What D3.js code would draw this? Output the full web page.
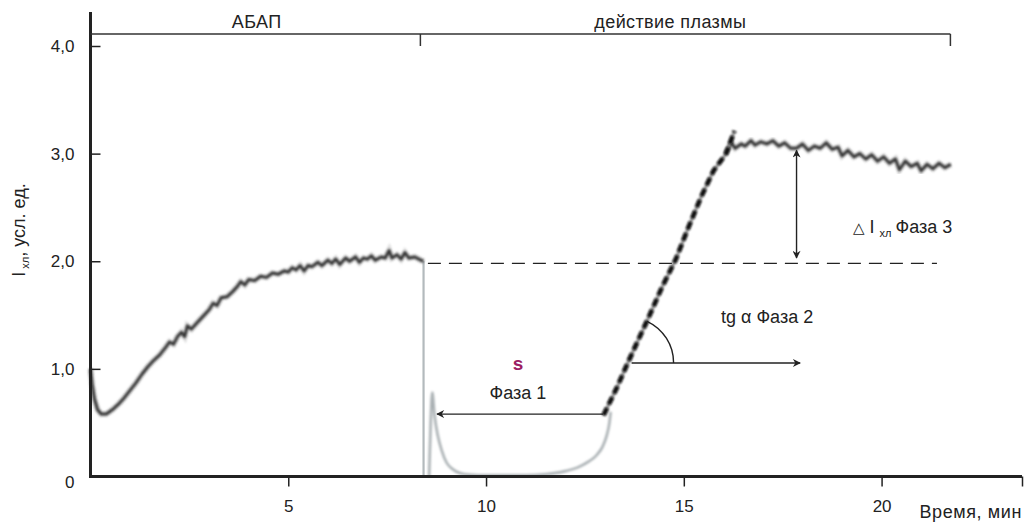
<!DOCTYPE html>
<html>
<head>
<meta charset="utf-8">
<script src="https://cdn.jsdelivr.net/npm/d3@7"></script>
<style>
  body { margin: 0; background: #fff; }
  svg { font-family: "Liberation Sans", Arial, sans-serif; }
</style>
</head>
<body>
<svg id="chart"></svg>
<script>
// time (min), chemiluminescence (arb. units)
const phaseAbap = [[0,1.0],[0.04,0.86],[0.1,0.72],[0.18,0.62],[0.27,0.58],[0.4,0.58],[0.55,0.62],[0.7,0.67],[0.85,0.73],[1.0,0.8],[1.15,0.87],
  [1.3,0.95],[1.45,1.02],[1.6,1.08],[1.75,1.13],[1.9,1.2],[2.0,1.25],[2.1,1.23],[2.2,1.3],[2.3,1.34],[2.38,1.3],[2.45,1.4],
  [2.55,1.37],[2.7,1.43],[2.85,1.49],[3.0,1.55],[3.1,1.61],[3.2,1.59],[3.3,1.66],[3.45,1.67],[3.6,1.72],[3.7,1.76],[3.8,1.81],
  [3.9,1.78],[4.0,1.83],[4.15,1.82],[4.3,1.86],[4.45,1.85],[4.6,1.89],[4.75,1.88],[4.9,1.91],[5.0,1.9],[5.1,1.94],[5.2,1.92],
  [5.3,1.96],[5.4,1.91],[5.5,1.96],[5.6,1.95],[5.75,1.99],[5.85,1.96],[6.0,2.01],[6.1,1.98],[6.2,2.02],[6.3,1.97],[6.45,2.03],
  [6.55,2.0],[6.7,2.04],[6.8,1.99],[6.9,2.03],[7.0,2.02],[7.1,2.05],[7.2,2.01],[7.35,2.04],[7.45,2.03],[7.55,2.1],[7.62,2.03],
  [7.75,2.06],[7.85,2.02],[7.95,2.08],[8.05,2.03],[8.2,2.04],[8.35,2.01],[8.42,2.0]];
const phaseDrop = [[8.42,2.0],[8.42,0.0]];
const phaseLag = [[8.56,0.0],[8.6,0.5],[8.64,0.78],[8.7,0.56],[8.78,0.38],[8.88,0.24],[9.0,0.13],[9.15,0.07],[9.35,0.03],
  [9.6,0.015],[10.0,0.01],[10.5,0.01],[11.0,0.01],[11.5,0.02],[12.0,0.05],[12.35,0.09],[12.6,0.14],[12.8,0.2],[12.95,0.28],
  [13.05,0.38],[13.12,0.5],[13.15,0.6]];
const phaseRise = [[12.97,0.57],[13.3,0.82],[13.6,1.07],[13.85,1.27],[14.1,1.47],[14.45,1.76],[14.8,2.02],[15.1,2.3],
  [15.44,2.6],[15.75,2.84],[16.07,3.0],[16.28,3.21]];
const phasePlateau = [[16.05,3.0],[16.2,3.1],[16.3,3.05],[16.45,3.09],[16.55,3.07],[16.7,3.12],[16.8,3.08],[16.95,3.11],
  [17.1,3.09],[17.25,3.12],[17.4,3.07],[17.55,3.1],[17.7,3.05],[17.85,3.05],[18.0,3.09],[18.15,3.03],[18.3,3.07],[18.45,3.05],
  [18.6,3.1],[18.75,3.04],[18.9,3.06],[19.0,2.98],[19.15,3.03],[19.3,2.97],[19.45,3.0],[19.6,2.95],[19.75,2.99],[19.9,2.93],
  [20.05,2.97],[20.2,2.91],[20.35,2.95],[20.45,2.85],[20.6,2.93],[20.75,2.88],[20.9,2.91],[21.0,2.84],[21.15,2.9],[21.3,2.86],
  [21.45,2.91],[21.6,2.87],[21.75,2.9]];

const xTicks = [5, 10, 15, 20];
const xEnd = 23.55;
const yTicks = [0, 1, 2, 3, 4];
const periods = [{label: "АБАП", from: 0, to: 8.34, labelAt: 4.2}, {label: "действие плазмы", from: 8.34, to: 21.74, labelAt: 14.66}];
const baselineLevel = 1.98;           // dashed reference level
const phase1Arrow = {from: 12.96, to: 8.76, level: 0.58};
const phase2Arrow = {from: 13.68, to: 17.94, level: 1.055, angle: 65};
const phase3Arrow = {at: 17.85, low: 2.03, high: 3.03};

const width = 1025, height = 522;
const svg = d3.select("#chart").attr("width", width).attr("height", height);

const x = d3.scaleLinear().domain([0, xEnd]).range([90.5, 1022]);
const y = d3.scaleLinear().domain([0, 4]).range([476.5, 46]);

const ink = "#222";
const fs = 18;

// fuzz filter for the trace
const defs = svg.append("defs");
defs.append("filter").attr("id", "blur").append("feGaussianBlur").attr("stdDeviation", 0.8);
defs.append("marker").attr("id", "head").attr("viewBox", "0 0 10 10").attr("refX", 9).attr("refY", 5)
  .attr("markerWidth", 11).attr("markerHeight", 8).attr("markerUnits", "userSpaceOnUse").attr("orient", "auto-start-reverse")
  .append("path").attr("d", "M0,0 L10,5 L0,10 L3,5 Z").attr("fill", ink);

const line = d3.line().x(d => x(d[0])).y(d => y(d[1]));

// light grey part of the trace
svg.append("path").datum(phaseDrop).attr("d", line).attr("fill", "none")
  .attr("stroke", "#b3babd").attr("stroke-width", 2.2);
svg.append("path").datum(phaseLag).attr("d", line.curve(d3.curveMonotoneX)).attr("fill", "none")
  .attr("stroke", "#aab1b4").attr("stroke-width", 2.6).attr("filter", "url(#blur)");
line.curve(d3.curveLinear);

// dark noisy parts
[phaseAbap, phasePlateau].forEach(data => {
  svg.append("path").datum(data).attr("d", line).attr("fill", "none")
    .attr("stroke", "#9a9a9a").attr("stroke-width", 6).attr("opacity", 0.35).attr("filter", "url(#blur)");
  svg.append("path").datum(data).attr("d", line).attr("fill", "none")
    .attr("stroke", "#383838").attr("stroke-width", 3).attr("stroke-linejoin", "round").attr("filter", "url(#blur)");
});

// steep rise, blotchy black
svg.append("path").datum(phaseRise).attr("d", line).attr("fill", "none")
  .attr("stroke", "#8c8c8c").attr("stroke-width", 3).attr("filter", "url(#blur)");
svg.append("path").datum(phaseRise).attr("d", line).attr("fill", "none")
  .attr("stroke", "#111").attr("stroke-width", 4.5).attr("stroke-dasharray", "8,4").attr("filter", "url(#blur)");

// axes
const yAxis = svg.append("g").attr("transform", `translate(${x(0)},0)`)
  .call(d3.axisLeft(y).tickValues(yTicks).tickSizeInner(-10).tickSizeOuter(0).tickPadding(16)
    .tickFormat(d => d === 0 ? "0" : d.toFixed(1).replace(".", ",")));
yAxis.select(".domain").remove();
yAxis.selectAll(".tick line").attr("stroke", ink).attr("stroke-width", 1.5);
yAxis.selectAll("text").attr("font-size", 17).attr("fill", ink).attr("font-family", null);
yAxis.selectAll(".tick").filter(d => d === 0).select("text").attr("dy", "0.62em");

const xAxis = svg.append("g").attr("transform", `translate(0,${y(0)})`)
  .call(d3.axisBottom(x).tickValues(xTicks.concat([xEnd])).tickSizeInner(10).tickSizeOuter(0).tickPadding(13)
    .tickFormat(d => d === xEnd ? "" : d));
xAxis.select(".domain").remove();
xAxis.selectAll(".tick line").attr("stroke", ink).attr("stroke-width", 1.5);
xAxis.selectAll("text").attr("font-size", 17).attr("fill", ink).attr("font-family", null);

svg.append("line").attr("x1", x(0)).attr("x2", x(0)).attr("y1", 12).attr("y2", y(0) + 1.5)
  .attr("stroke", ink).attr("stroke-width", 3);
svg.append("line").attr("x1", x(0)).attr("x2", x(xEnd)).attr("y1", y(0)).attr("y2", y(0))
  .attr("stroke", ink).attr("stroke-width", 3);

svg.append("text").attr("x", 1022).attr("y", 518).attr("text-anchor", "end")
  .attr("font-size", fs).attr("letter-spacing", 0.6).attr("fill", ink).text("Время, мин");

const yLabel = svg.append("text").attr("transform", "translate(25,230) rotate(-90)")
  .attr("text-anchor", "middle").attr("font-size", fs).attr("fill", ink);
yLabel.append("tspan").text("I");
yLabel.append("tspan").attr("font-size", 11).attr("dy", 4).attr("dx", 3).text("хл");
yLabel.append("tspan").attr("dy", -4).text(", усл. ед.");

// period bracket at the top
const bracketY = 34;
svg.append("line").attr("x1", x(0)).attr("x2", x(periods[1].to)).attr("y1", bracketY).attr("y2", bracketY)
  .attr("stroke", "#333").attr("stroke-width", 1.5);
periods.forEach(p => {
  svg.append("line").attr("x1", x(p.to)).attr("x2", x(p.to)).attr("y1", bracketY).attr("y2", bracketY + 12)
    .attr("stroke", "#333").attr("stroke-width", 1.5);
  svg.append("text").attr("x", x(p.labelAt)).attr("y", 28).attr("text-anchor", "middle")
    .attr("font-size", fs).attr("letter-spacing", 0.4).attr("fill", ink).text(p.label);
});

// dashed reference level
svg.append("line").attr("x1", x(8.53)).attr("x2", x(21.4)).attr("y1", y(baselineLevel)).attr("y2", y(baselineLevel))
  .attr("stroke", ink).attr("stroke-width", 1.4).attr("stroke-dasharray", "13,8");

// phase 3: double arrow
svg.append("line").attr("x1", x(phase3Arrow.at)).attr("x2", x(phase3Arrow.at))
  .attr("y1", y(phase3Arrow.low)).attr("y2", y(phase3Arrow.high))
  .attr("stroke", ink).attr("stroke-width", 1.4)
  .attr("marker-start", "url(#head)").attr("marker-end", "url(#head)");
const t3 = svg.append("text").attr("x", 853).attr("y", 233).attr("font-size", fs).attr("fill", ink);
t3.append("tspan").attr("font-family", "DejaVu Sans").attr("font-size", 15).text("△");
t3.append("tspan").attr("dx", 5).text("I");
t3.append("tspan").attr("dx", 5).attr("dy", 4).attr("font-size", 11).text("хл");
t3.append("tspan").attr("dx", 4).attr("dy", -4).text("Фаза 3");

// phase 2: angle
const cx = x(phase2Arrow.from) - 4, cy = y(phase2Arrow.level), r = 46, a = phase2Arrow.angle * Math.PI / 180;
svg.append("line").attr("x1", x(phase2Arrow.from)).attr("x2", x(phase2Arrow.to))
  .attr("y1", cy).attr("y2", cy).attr("stroke", ink).attr("stroke-width", 1.4).attr("marker-end", "url(#head)");
svg.append("path").attr("d", `M${cx + r},${cy} A${r},${r} 0 0 0 ${cx + r * Math.cos(a)},${cy - r * Math.sin(a)}`)
  .attr("fill", "none").attr("stroke", ink).attr("stroke-width", 1.4);
svg.append("text").attr("x", 721).attr("y", 323).attr("font-size", fs).attr("fill", ink).text("tg α Фаза 2");

// phase 1: lag arrow
svg.append("line").attr("x1", x(phase1Arrow.from)).attr("x2", x(phase1Arrow.to))
  .attr("y1", y(phase1Arrow.level)).attr("y2", y(phase1Arrow.level))
  .attr("stroke", ink).attr("stroke-width", 1.4).attr("marker-end", "url(#head)");
svg.append("text").attr("x", 518).attr("y", 370).attr("text-anchor", "middle").attr("font-size", 19)
  .attr("font-weight", "bold").attr("fill", "#9c1d62").text("s");
svg.append("text").attr("x", 518).attr("y", 399).attr("text-anchor", "middle").attr("font-size", fs)
  .attr("fill", ink).text("Фаза 1");
</script>
</body>
</html>
